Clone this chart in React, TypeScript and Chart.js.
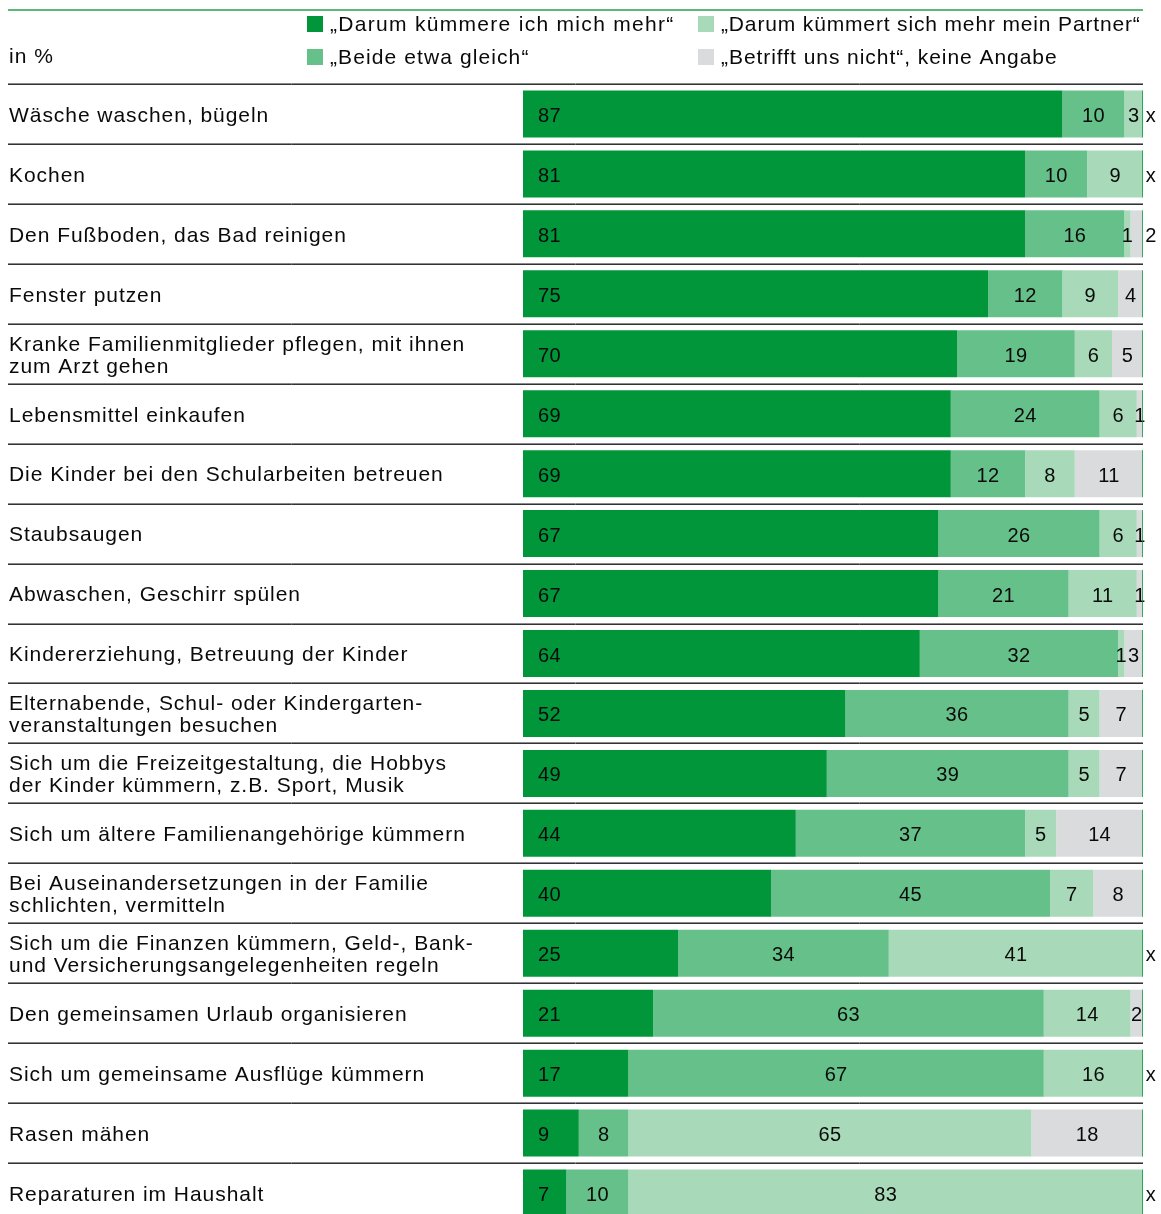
import React, { useEffect, useRef } from "react";
import { Chart, registerables } from "chart.js";

Chart.register(...registerables);

const categories: (string | string[])[] = [
  "Wäsche waschen, bügeln",
  "Kochen",
  "Den Fußboden, das Bad reinigen",
  "Fenster putzen",
  ["Kranke Familienmitglieder pflegen, mit ihnen", "zum Arzt gehen"],
  "Lebensmittel einkaufen",
  "Die Kinder bei den Schularbeiten betreuen",
  "Staubsaugen",
  "Abwaschen, Geschirr spülen",
  "Kindererziehung, Betreuung der Kinder",
  ["Elternabende, Schul- oder Kindergarten-", "veranstaltungen besuchen"],
  ["Sich um die Freizeitgestaltung, die Hobbys", "der Kinder kümmern, z.B. Sport, Musik"],
  "Sich um ältere Familienangehörige kümmern",
  ["Bei Auseinandersetzungen in der Familie", "schlichten, vermitteln"],
  ["Sich um die Finanzen kümmern, Geld-, Bank-", "und Versicherungsangelegenheiten regeln"],
  "Den gemeinsamen Urlaub organisieren",
  "Sich um gemeinsame Ausflüge kümmern",
  "Rasen mähen",
  "Reparaturen im Haushalt",
];

const ichMehr = [87, 81, 81, 75, 70, 69, 69, 67, 67, 64, 52, 49, 44, 40, 25, 21, 17, 9, 7];
const beide = [10, 10, 16, 12, 19, 24, 12, 26, 21, 32, 36, 39, 37, 45, 34, 63, 67, 8, 10];
const partner = [3, 9, 1, 9, 6, 6, 8, 6, 11, 1, 5, 5, 5, 7, 41, 14, 16, 65, 83];
const nicht = [0, 0, 2, 4, 5, 1, 11, 1, 1, 3, 7, 7, 14, 8, 0, 2, 0, 18, 0];

// label of the last series shown to the right of the bar ("x" when 0)
const nichtLabelOutside = [true, true, true, false, false, false, false, false, false, false, false, false, false, false, true, false, true, false, true];

const seriesNames = [
  "„Darum kümmere ich mich mehr“",
  "„Beide etwa gleich“",
  "„Darum kümmert sich mehr mein Partner“",
  "„Betrifft uns nicht“, keine Angabe",
];
const unitLabel = "in %";

const colors = ["#009639", "#66c08a", "#a8dab9", "#dadbdc"];
const FONT = '"Liberation Sans", Arial, sans-serif';
const TEXT = "#0a0a0a";

const decorPlugin = {
  id: "decor",
  beforeDraw(chart: any) {
    chart.ctx.letterSpacing = "0.95px";
  },
  beforeDatasetsDraw(chart: any) {
    const { ctx, chartArea } = chart;
    const n = categories.length;
    const band = (chartArea.bottom - chartArea.top) / n;
    ctx.save();
    ctx.strokeStyle = "#5cb87a";
    ctx.lineWidth = 2;
    ctx.beginPath();
    ctx.moveTo(8, 10);
    ctx.lineTo(chartArea.right, 10);
    ctx.stroke();
    for (let i = 0; i < n; i++) {
      const yy = Math.round(chartArea.top + i * band) + 0.5;
      ctx.lineWidth = 1;
      ctx.strokeStyle = "#8a8a8a";
      ctx.beginPath();
      ctx.moveTo(8, yy - 1);
      ctx.lineTo(chartArea.right, yy - 1);
      ctx.stroke();
      ctx.strokeStyle = "#333333";
      ctx.beginPath();
      ctx.moveTo(8, yy);
      ctx.lineTo(chartArea.right, yy);
      ctx.stroke();
    }
    // legend
    ctx.font = `21px ${FONT}`;
    ctx.textBaseline = "middle";
    ctx.textAlign = "left";
    const legendPos = [
      [307, 24, "1.3px"],
      [307, 57, "1.1px"],
      [698, 24, "0.85px"],
      [698, 57, "0.95px"],
    ];
    seriesNames.forEach((name, i) => {
      const [lx, ly, ls] = legendPos[i] as [number, number, string];
      ctx.fillStyle = colors[i];
      ctx.fillRect(lx, ly - 8, 16, 16);
      ctx.fillStyle = TEXT;
      ctx.letterSpacing = ls;
      ctx.fillText(name, lx + 23, ly + 1);
    });
    ctx.letterSpacing = "1px";
    ctx.fillText(unitLabel, 9, 57);
    ctx.restore();
  },
  afterDatasetsDraw(chart: any) {
    const { ctx } = chart;
    const xScale = chart.scales.x;
    const right = xScale.getPixelForValue(100);
    ctx.save();
    ctx.font = `20px ${FONT}`;
    ctx.letterSpacing = "0.3px";
    ctx.textBaseline = "middle";
    ctx.fillStyle = TEXT;
    const sets = [ichMehr, beide, partner, nicht];
    sets.forEach((vals, di) => {
      const meta = chart.getDatasetMeta(di);
      vals.forEach((v, j) => {
        const el: any = meta.data[j];
        if (!el) return;
        const yc = el.y + 2.5;
        if (di === 3 && nichtLabelOutside[j]) {
          ctx.textAlign = "center";
          ctx.fillText(v === 0 ? "x" : String(v), right + 8, yc);
          return;
        }
        if (v === 0) return;
        if (di === 0) {
          ctx.textAlign = "left";
          ctx.fillText(String(v), el.base + 15, yc);
        } else {
          ctx.textAlign = "center";
          ctx.fillText(String(v), (el.x + el.base) / 2, yc);
        }
      });
    });
    // thin 100% edge line
    const meta0 = chart.getDatasetMeta(0);
    ctx.strokeStyle = "rgba(0,150,57,0.75)";
    ctx.lineWidth = 1;
    meta0.data.forEach((el: any) => {
      ctx.beginPath();
      ctx.moveTo(right - 0.5, el.y - el.height / 2);
      ctx.lineTo(right - 0.5, el.y + el.height / 2);
      ctx.stroke();
    });
    ctx.restore();
  },
};

export default function App() {
  const ref = useRef<HTMLCanvasElement | null>(null);

  useEffect(() => {
    if (!ref.current) return;
    const series = [ichMehr, beide, partner, nicht];
    const chart = new Chart(ref.current, {
      type: "bar",
      data: {
        labels: categories,
        datasets: series.map((vals, i) => ({
          label: seriesNames[i],
          data: vals,
          backgroundColor: colors[i],
          borderWidth: 0,
          barPercentage: 47 / 59.95,
          categoryPercentage: 1,
        })),
      },
      options: {
        indexAxis: "y",
        responsive: true,
        maintainAspectRatio: false,
        animation: false,
        devicePixelRatio: 1,
        layout: { padding: { left: 9, right: 18, top: 84, bottom: 0 } },
        plugins: {
          legend: { display: false },
          tooltip: { enabled: false },
        },
        scales: {
          x: { stacked: true, min: 0, max: 100, display: false },
          y: {
            stacked: true,
            grid: { display: false },
            border: { display: false },
            ticks: {
              autoSkip: false,
              crossAlign: "far",
              padding: 0,
              labelOffset: 2,
              color: TEXT,
              font: { family: FONT, size: 21, lineHeight: 1.05 },
            },
            afterFit(scale: any) {
              scale.width = 514;
              scale.paddingTop = 0;
              scale.paddingBottom = 0;
            },
          },
        },
      } as any,
      plugins: [decorPlugin],
    });
    return () => chart.destroy();
  }, []);

  return (
    <div
      style={{
        position: "fixed",
        left: 0,
        top: 0,
        width: 1161,
        height: 1214,
        overflow: "hidden",
        background: "#fff",
      }}
    >
      <div style={{ position: "relative", width: 1161, height: 1223 }}>
        <canvas ref={ref} />
      </div>
    </div>
  );
}
